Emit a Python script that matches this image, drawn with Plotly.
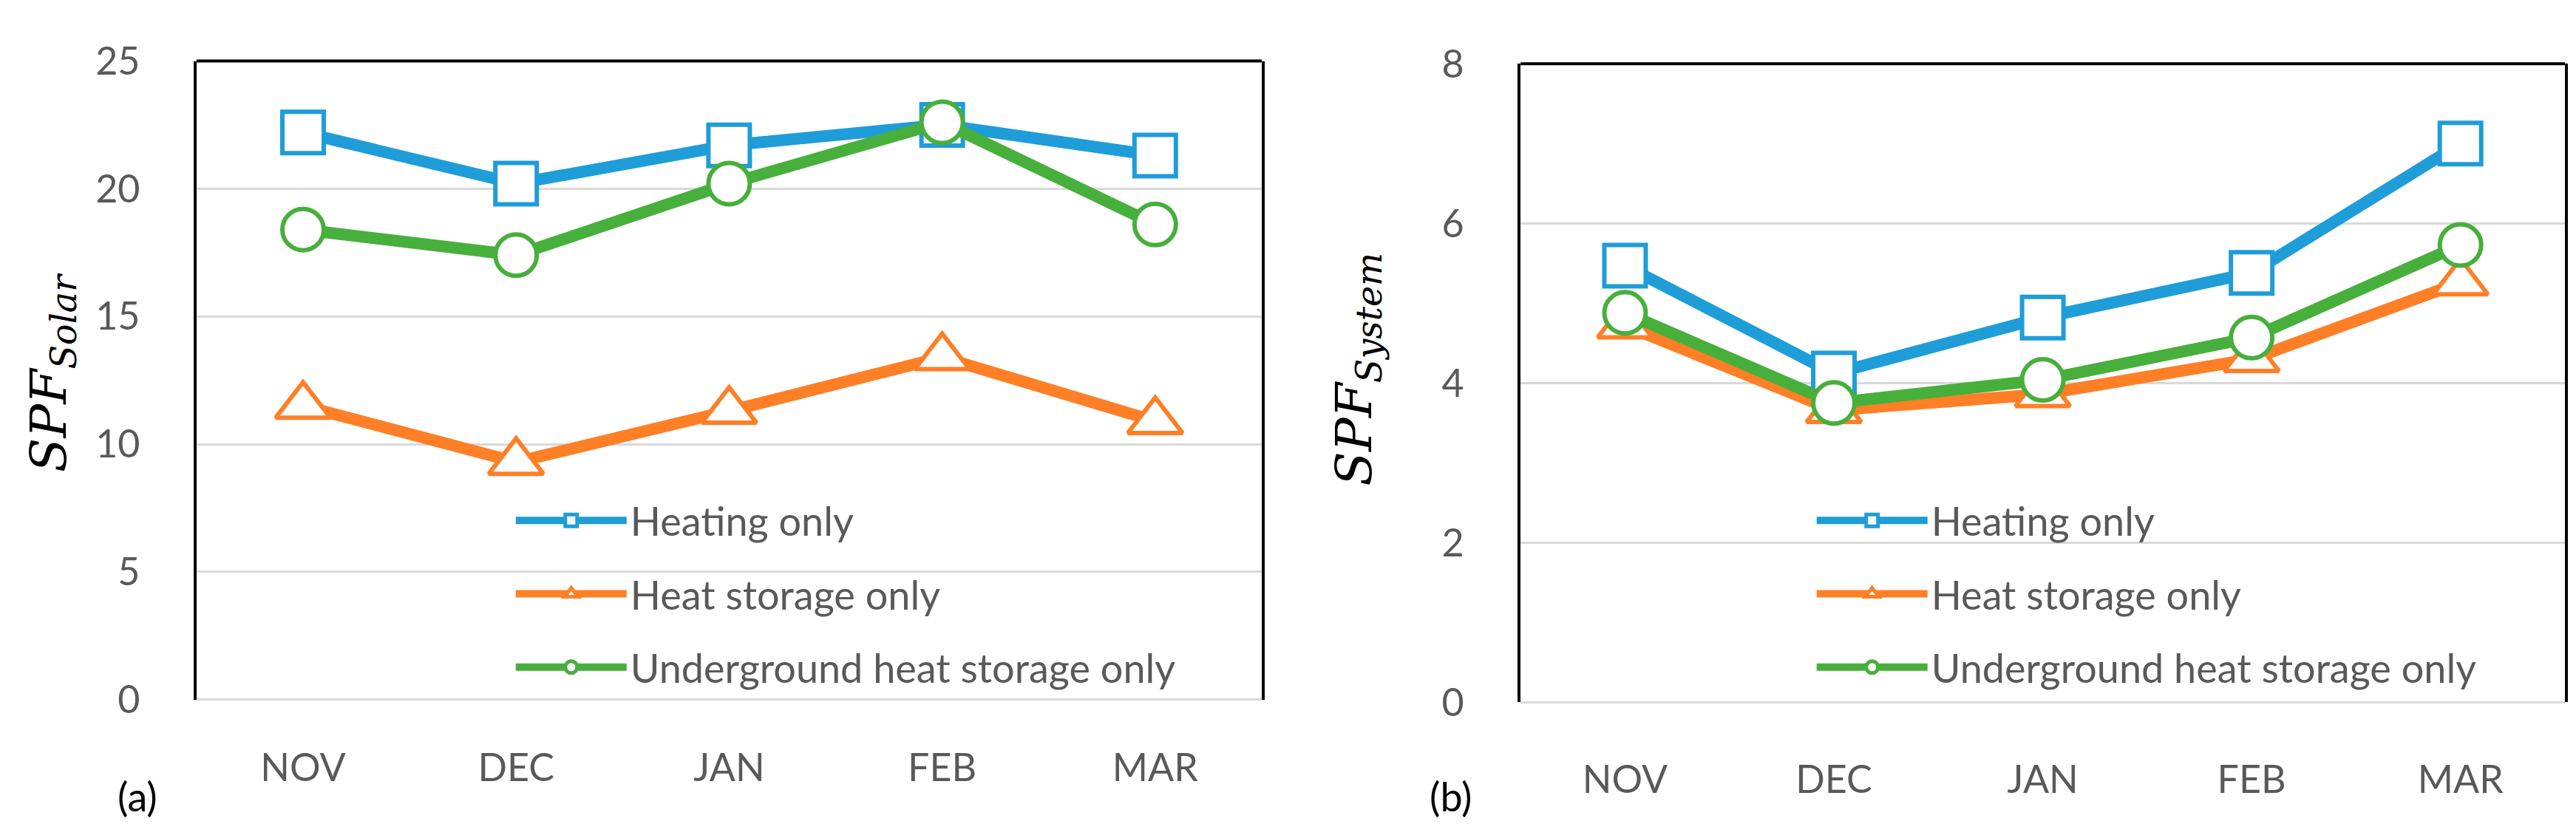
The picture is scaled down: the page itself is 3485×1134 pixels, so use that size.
import plotly.graph_objects as go

months = ['NOV', 'DEC', 'JAN', 'FEB', 'MAR']
series_names = ['Heating only', 'Heat storage only', 'Underground heat storage only']

# (a) SPF solar
solar_heating = [22.2, 20.2, 21.7, 22.5, 21.3]
solar_storage = [11.5, 9.3, 11.3, 13.4, 10.9]
solar_underground = [18.4, 17.4, 20.2, 22.6, 18.6]

# (b) SPF system
system_heating = [5.47, 4.12, 4.82, 5.38, 7.0]
system_storage = [4.72, 3.66, 3.86, 4.3, 5.26]
system_underground = [4.88, 3.75, 4.04, 4.57, 5.73]

solar_ticks = [0, 5, 10, 15, 20, 25]
system_ticks = [0, 2, 4, 6, 8]

colors = ['#1E9DD8', '#FF7F27', '#47AF3B']
symbols = ['square', 'triangle-up', 'circle']
msizes = [56, 64, 56]

TXT = '#595959'
FONT = 'Lato'

fig = go.Figure()

panels = [
    ('x', 'y', 'legend', [solar_heating, solar_storage, solar_underground]),
    ('x2', 'y2', 'legend2', [system_heating, system_storage, system_underground]),
]
for xa, ya, leg, data in panels:
    for i, vals in enumerate(data):
        fig.add_trace(go.Scatter(
            x=months, y=vals, xaxis=xa, yaxis=ya,
            name=series_names[i], legend=leg, legendgroup=leg + str(i),
            mode='lines+markers',
            line=dict(color=colors[i], width=16),
            marker=dict(symbol=symbols[i], size=msizes[i], color='white',
                        line=dict(color=colors[i], width=6)),
        ))

axis_common = dict(tickfont=dict(family=FONT, size=52, color=TXT), showgrid=False)
yaxis_common = dict(tickfont=dict(family=FONT, size=52, color=TXT),
                    showgrid=True, gridcolor='#D9D9D9', gridwidth=3,
                    zeroline=True, zerolinecolor='#D9D9D9', zerolinewidth=3,
                    showline=True, mirror=True, linecolor='black', linewidth=4,
                    ticks='outside', ticklen=62, tickcolor='rgba(0,0,0,0)')

legend_common = dict(xanchor='left', yanchor='top', bgcolor='rgba(0,0,0,0)',
                     font=dict(family=FONT, size=54, color=TXT), itemwidth=150,
                     traceorder='grouped', tracegroupgap=26)

fig.update_layout(
    width=3485, height=1134,
    margin=dict(l=0, r=0, t=0, b=0),
    paper_bgcolor='white', plot_bgcolor='white',
    xaxis=dict(domain=[0.0740, 0.4875], range=[-0.5, 4.5], type='category',
               ticks='outside', ticklen=47, tickcolor='rgba(0,0,0,0)', anchor='y', **axis_common),
    yaxis=dict(domain=[0.1552, 0.9612], range=[0, 25], tickvals=solar_ticks, anchor='x', **yaxis_common),
    xaxis2=dict(domain=[0.5880, 0.9934], range=[-0.5, 4.5], type='category',
                ticks='outside', ticklen=59, tickcolor='rgba(0,0,0,0)', anchor='y2', **axis_common),
    yaxis2=dict(domain=[0.1517, 0.9577], range=[0, 8], tickvals=system_ticks, anchor='x2', **yaxis_common),
    legend=dict(x=0.1965, y=0.42, **legend_common),
    legend2=dict(x=0.7015, y=0.42, **legend_common),
    shapes=[
        dict(type='line', xref='x domain', yref='y domain', x0=0, x1=1, y0=1, y1=1,
             line=dict(color='black', width=4)),
        dict(type='line', xref='x2 domain', yref='y2 domain', x0=0, x1=1, y0=1, y1=1,
             line=dict(color='black', width=4)),
    ],
    annotations=[
        dict(text='<i>SPF</i><sub><i>Solar</i></sub>', x=0.0178, y=0.568, xref='paper', yref='paper',
             xanchor='center', yanchor='middle',
             textangle=-90, showarrow=False, font=dict(family='DejaVu Serif', size=68, color='black')),
        dict(text='<i>SPF</i><sub><i>System</i></sub>', x=0.5245, y=0.572, xref='paper', yref='paper',
             xanchor='center', yanchor='middle',
             textangle=-90, showarrow=False, font=dict(family='DejaVu Serif', size=68, color='black')),
        dict(text='(a)', x=0.051, y=0.033, xref='paper', yref='paper', showarrow=False,
             xanchor='center', yanchor='middle',
             font=dict(family=FONT, size=54, color='black')),
        dict(text='(b)', x=0.561, y=0.033, xref='paper', yref='paper', showarrow=False,
             xanchor='center', yanchor='middle',
             font=dict(family=FONT, size=54, color='black')),
    ],
)

fig.write_html("out.html")
